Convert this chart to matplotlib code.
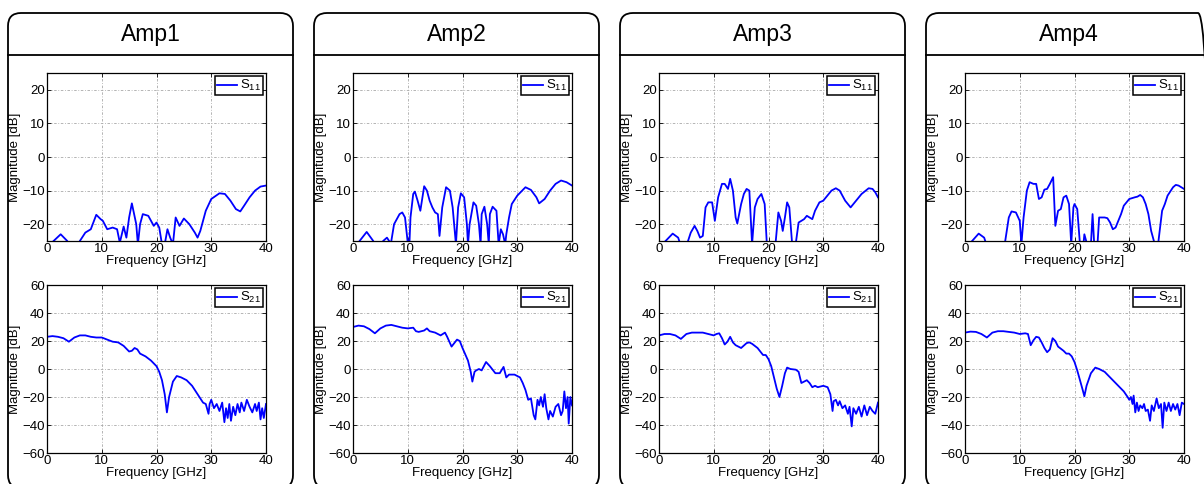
import numpy as np
import matplotlib
matplotlib.use('Agg')
import matplotlib.pyplot as plt
from matplotlib.patches import FancyBboxPatch
from matplotlib.lines import Line2D

plt.rcParams['font.family'] = ['Liberation Sans', 'DejaVu Sans']
plt.rcParams['mathtext.fontset'] = 'custom'
plt.rcParams['mathtext.rm'] = 'Liberation Sans'

amps = ['Amp1', 'Amp2', 'Amp3', 'Amp4']

# S11 [GHz, dB]; values under -25 dB fall off the bottom of the axes
s11_amp1_f = [1.2, 2.5, 3.7, 4.5, 6.0, 7.0, 8.0, 9.0, 9.8, 10.2, 11.0, 12.0, 12.8, 13.3, 14.0, 14.5, 15.0, 15.5,
              16.3, 16.6, 17.0, 17.5, 18.5, 19.0, 19.5, 20.0, 20.5, 21.0, 21.5, 22.0, 22.5, 23.0, 23.5, 24.2,
              25.0, 26.0, 27.0, 27.5, 28.0, 29.0, 30.0, 31.5, 32.5, 33.5, 34.5, 35.3, 36.0, 37.0, 38.0, 39.0, 40.0]
s11_amp1_db = [-25, -23, -25, -30, -25, -22.5, -21.5, -17.2, -18.5, -19, -21.5, -21, -21.5, -25.5, -20.7, -24, -18, -13.8,
               -20, -26, -20, -17, -17.5, -19, -20.5, -19.5, -21, -26, -26, -21.5, -24, -26, -18, -20.5,
               -18.3, -20, -22.5, -24, -22, -16, -12.5, -10.8, -11, -13, -15.5, -16.2, -14.5, -12, -10, -8.8, -8.5]

s11_amp2_f = [1.2, 2.5, 3.7, 4.5, 5.5, 6.2, 6.8, 7.0, 7.5, 8.5, 9.0, 9.5, 10.0, 10.3, 10.5, 11.0, 11.3, 11.8, 12.3,
              13.0, 13.5, 14.0, 14.5, 15.0, 15.5, 15.8, 16.3, 17.0, 17.7, 18.2, 18.8, 19.2, 19.7, 20.3, 20.8, 21.0,
              21.3, 22.0, 22.5, 23.0, 23.3, 23.5, 24.0, 24.5, 24.8, 25.0, 25.5, 26.2, 26.6, 27.0, 27.4, 27.8, 28.0,
              28.5, 29.0, 30.0, 31.5, 32.5, 33.5, 34.0, 35.0, 36.0, 37.0, 38.0, 39.0, 40.0]
s11_amp2_db = [-25, -22.3, -25, -30, -25, -24, -25.5, -25, -20, -17, -16.5, -18, -25.5, -26, -18, -11, -10.3, -13, -16,
               -8.7, -10, -13, -15, -16.5, -17, -23.5, -15, -9, -10, -15, -26, -15, -10.8, -12, -20, -26,
               -20, -13.5, -14.5, -20, -26, -17, -14.8, -20, -26, -17, -14.8, -16, -26, -21.5, -23, -26, -23,
               -18, -14, -11.5, -9, -9.8, -12, -13.8, -12.5, -10, -8, -7, -7.5, -8.5]

s11_amp3_f = [1.2, 2.5, 3.5, 3.8, 4.5, 5.3, 5.8, 6.5, 7.0, 7.5, 8.0, 8.5, 9.0, 9.7, 10.2, 10.8, 11.5, 12.0, 12.6,
              13.0, 13.5, 14.0, 14.3, 15.0, 15.5, 16.0, 16.5, 17.0, 17.5, 18.0, 18.7, 19.3, 19.7, 20.5, 21.3, 21.8,
              22.3, 22.6, 23.0, 23.4, 23.8, 24.3, 24.6, 25.0, 25.5, 26.0, 26.5, 27.0, 27.5, 28.0, 28.5, 29.3, 30.0,
              30.5, 31.5, 32.3, 33.0, 34.0, 35.0, 36.0, 37.0, 38.3, 39.0, 39.5, 40.0]
s11_amp3_db = [-25, -22.8, -24, -25.5, -30, -25, -22.5, -20.5, -22, -24, -23.5, -15, -13.5, -13.5, -19, -12, -8, -8, -9.5,
               -6.5, -10, -18, -19.8, -14, -11, -9.5, -10, -26, -15, -12.5, -11, -14, -26, -30, -25.5, -16.5,
               -19, -22, -18, -13.5, -15, -25.5, -30, -25.5, -19.5, -19, -18.5, -17.5, -18, -18.5, -16, -13.5, -13,
               -12, -10, -9.3, -10, -13, -15, -13, -11, -9.3, -9.5, -10.5, -12]

s11_amp4_f = [1.3, 2.5, 3.5, 3.8, 5.0, 7.3, 8.0, 8.5, 9.3, 10.0, 10.3, 10.7, 11.3, 11.8, 12.5, 13.0, 13.5, 14.0, 14.5,
              15.0, 15.5, 16.1, 16.5, 17.0, 17.5, 18.0, 18.5, 19.0, 19.4, 19.8, 20.0, 20.5, 21.0, 21.4, 21.8, 22.3,
              22.7, 23.0, 23.3, 23.6, 23.9, 24.2, 24.5, 25.5, 26.0, 26.5, 27.0, 27.5, 28.0, 28.5, 29.0, 30.0, 31.0,
              31.5, 32.0, 32.5, 33.0, 33.5, 34.0, 34.5, 35.0, 35.3, 36.0, 36.5, 37.0, 38.0, 38.5, 39.0, 39.5, 40.0]
s11_amp4_db = [-25, -22.8, -24, -25.5, -30, -25.5, -18, -16.2, -16.5, -19, -26, -18, -10, -7.5, -8, -8, -12.5, -12, -9.7,
               -9.5, -8, -6, -20.5, -16, -15.5, -12, -11.5, -14, -26, -15, -14, -15.5, -26, -30, -23, -26,
               -30, -26, -17, -26, -30, -26, -18, -18, -18.2, -19.5, -21.5, -21, -19, -17, -14.5, -12.5, -12,
               -11.8, -11.3, -12, -14, -17, -22, -25, -27, -25.5, -16, -14, -11.5, -9, -8.3, -8.5, -9, -9.5]

# S21 [GHz, dB]
s21_amp1_f = [0, 1, 2, 3, 4, 5, 6, 7, 8, 9, 10, 11, 12, 13, 14, 15, 15.5, 16, 16.5, 17, 18, 19, 20, 20.5, 21,
              21.5, 21.9, 22.3, 23, 23.7, 24.5, 25.5, 26.5, 27, 27.5, 28, 28.5, 29, 29.5, 29.7, 30, 30.5, 31,
              31.5, 32, 32.4, 32.7, 33, 33.3, 33.6, 34, 34.4, 34.8, 35.2, 35.5, 36, 36.5, 37, 37.5, 38, 38.3,
              38.7, 39, 39.3, 39.6, 40]
s21_amp1_db = [23, 23.5, 23, 22, 19.5, 22.5, 24, 24, 23, 22.5, 22.5, 21, 19.5, 19, 16.5, 12.5, 13, 15, 14, 11, 9, 6, 2, -2, -8,
               -18, -31, -20, -9, -5, -6, -8, -12, -15, -18, -21, -24, -25, -32, -25, -22, -28, -25,
               -30, -24, -38, -28, -35, -25, -37, -27, -33, -25, -31, -24, -30, -22, -27, -31, -25, -30,
               -24, -36, -28, -35, -25]

s21_amp2_f = [0, 1, 2, 3, 4, 5, 6, 7, 8, 9, 10, 11, 11.5, 12, 13, 13.5, 14, 15, 16, 16.8, 17.2, 18, 19, 19.5, 20,
              21, 21.5, 21.8, 22.2, 22.5, 23, 23.5, 24.3, 25, 26, 26.8, 27.5, 28, 28.5, 29.5, 30.5, 31, 31.5,
              32, 32.5, 33, 33.3, 33.7, 34, 34.3, 34.7, 35, 35.3, 35.7, 36, 36.5, 37, 37.5, 38, 38.3, 38.6,
              38.9, 39.2, 39.4, 39.7, 40]
s21_amp2_db = [30, 31, 30.5, 28.5, 25.5, 29, 31, 31.5, 30.5, 29.5, 29, 29.5, 27, 26.5, 27.5, 29, 27, 26, 24, 26, 23, 16, 21, 20, 15,
               6, -2, -9, -2, -1, 0, -1, 5, 2, -3, -3, 1.5, -6, -4, -4, -6, -10, -15,
               -22, -21, -33, -36, -22, -26, -20, -27, -18, -28, -36, -30, -34, -27, -25, -33, -30, -16,
               -28, -20, -39, -20, -26]

s21_amp3_f = [0, 1, 2, 3, 4, 5, 6, 7, 8, 9, 10, 10.5, 11, 11.5, 12, 12.5, 13, 13.5, 14, 15, 16, 16.5, 17, 18, 19,
              19.5, 20, 20.5, 21, 21.5, 22, 22.5, 23, 23.4, 24, 25, 25.5, 26, 26.5, 27, 27.5, 28, 28.5, 29, 30,
              30.8, 31.3, 31.7, 31.9, 32.3, 32.7, 33, 33.5, 34, 34.5, 34.8, 35.2, 35.5, 36, 36.5, 37, 37.5, 38,
              38.5, 39, 39.5, 40]
s21_amp3_db = [24, 25, 25, 24, 21.5, 25, 26, 26, 26, 25, 24, 25, 25.5, 22, 17.5, 19.5, 23, 19, 17, 15, 18.5, 19, 18, 15, 10,
               10, 7, 2, -6, -14, -20, -12, -3, 1, 0, -0.5, -2, -10, -9, -8, -10, -13, -12, -13, -12,
               -13, -18, -30, -23, -22, -26, -23, -28, -26, -32, -27, -41, -28, -32, -27, -34, -26, -33,
               -27, -30, -32, -24]

s21_amp4_f = [0, 1, 2, 3, 4, 5, 6, 7, 8, 9, 10, 11, 11.5, 12, 12.5, 13, 13.5, 14, 14.5, 15, 15.5, 16, 16.5, 17, 18,
              18.5, 19, 19.5, 20, 20.5, 21, 21.5, 21.8, 22.2, 23, 23.8, 24.5, 25.5, 26, 27, 28, 29, 29.7, 30,
              30.3, 30.6, 30.8, 31.1, 31.4, 31.7, 32, 32.4, 32.7, 33, 33.4, 33.8, 34.1, 34.5, 35, 35.4, 35.8,
              36.1, 36.4, 36.8, 37.2, 37.6, 38, 38.4, 38.8, 39.2, 39.6, 40]
s21_amp4_db = [26, 26.7, 26.5, 25, 22.5, 26, 27, 27, 26.5, 26, 25, 25.5, 25, 17, 20.5, 23, 22.5, 19, 15, 12, 14, 22, 20, 16, 13,
               11, 11, 9, 5, -1, -8, -15, -19.5, -12, -3, 1, 0, -2, -4, -8, -12, -16, -20, -22,
               -20, -25, -19, -31, -24, -30, -26, -28, -25, -30, -29, -37, -26, -30, -21, -28, -25,
               -42, -24, -30, -24, -30, -25, -29, -25, -33, -24, -25]

s11_f = [s11_amp1_f, s11_amp2_f, s11_amp3_f, s11_amp4_f]
s11_db = [s11_amp1_db, s11_amp2_db, s11_amp3_db, s11_amp4_db]
s21_f = [s21_amp1_f, s21_amp2_f, s21_amp3_f, s21_amp4_f]
s21_db = [s21_amp1_db, s21_amp2_db, s21_amp3_db, s21_amp4_db]

W, H = 1204, 484
fig = plt.figure(figsize=(W / 100, H / 100), dpi=100)


def px_axes(x, y, w, h):
    # pixel box (top-left origin) -> figure fraction
    return fig.add_axes([x / W, 1 - (y + h) / H, w / W, h / H])


def style(ax, ylim, yticks, label):
    ax.set_xlim(0, 40)
    ax.set_ylim(*ylim)
    ax.set_xticks([0, 10, 20, 30, 40])
    ax.set_yticks(yticks)
    ax.grid(True, color='#a8a8a8', linestyle=(0, (3, 2, 1, 2)), linewidth=0.6)
    ax.tick_params(direction='in', top=True, right=True, length=3, width=0.6,
                   labelsize=9.5, pad=1.5)
    for sp in ax.spines.values():
        sp.set_linewidth(0.9)
    ax.set_xlabel('Frequency [GHz]', fontsize=9.5, labelpad=0)
    ax.set_ylabel('Magnitude [dB]', fontsize=9.5, labelpad=1)
    leg = ax.legend(handles=[Line2D([], [], color='#0000ff', lw=1.3)], labels=[label],
                    loc='upper right', fontsize=9.5, handlelength=1.5, handletextpad=0.2,
                    borderpad=0.15, borderaxespad=0.25, fancybox=False, framealpha=1)
    leg.get_frame().set_edgecolor('black')
    leg.get_frame().set_linewidth(1.1)


for i, name in enumerate(amps):
    bx = 8 + 306 * i
    # rounded frame around each amplifier, with a header strip
    frame = FancyBboxPatch((bx / 100, (H - 488) / 100), 285 / 100, (488 - 13) / 100,
                           boxstyle='round,pad=0,rounding_size=0.13',
                           transform=fig.dpi_scale_trans, facecolor='none',
                           edgecolor='black', linewidth=1.3, clip_on=False)
    fig.add_artist(frame)
    fig.add_artist(Line2D([bx / W, (bx + 285) / W], [1 - 55 / H, 1 - 55 / H],
                          transform=fig.transFigure, color='black', linewidth=1.3))
    fig.text((bx + 142.5) / W, 1 - 34 / H, name, ha='center', va='center', fontsize=16.5)

    ax1 = px_axes(bx + 39, 73, 219, 168)
    ax1.plot(s11_f[i], s11_db[i], color='#0000ff', linewidth=1.3)
    style(ax1, (-25, 25), [-20, -10, 0, 10, 20], r'$\mathregular{S_{11}}$')

    ax2 = px_axes(bx + 39, 285, 219, 168)
    ax2.plot(s21_f[i], s21_db[i], color='#0000ff', linewidth=1.3)
    style(ax2, (-60, 60), [-60, -40, -20, 0, 20, 40, 60], r'$\mathregular{S_{21}}$')

fig.savefig('out.png', dpi=100)
